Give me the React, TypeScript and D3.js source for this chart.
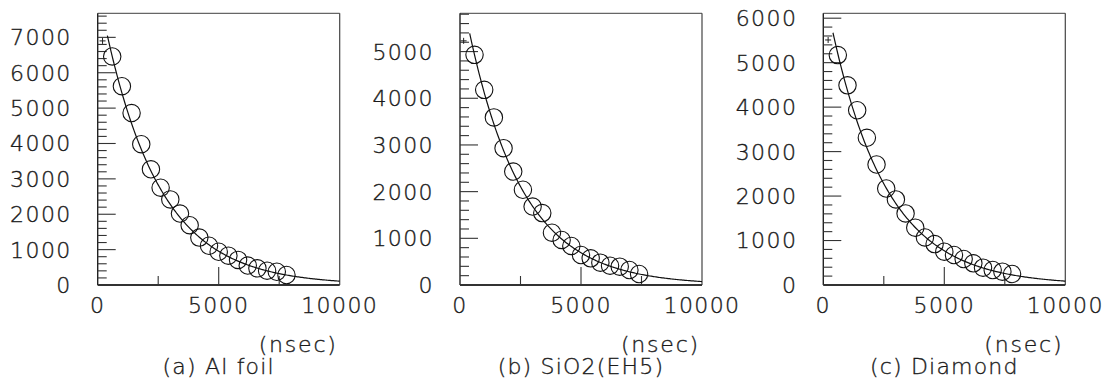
import React from "react";
import * as d3 from "d3";

// ---- data ----
const panelTitles = ["(a) Al foil", "(b) SiO2(EH5)", "(c) Diamond"];
const xUnit = "(nsec)";
const xTickLabels = [0, 5000, 10000];

const timesA = [600, 1000, 1400, 1800, 2200, 2600, 3000, 3400, 3800, 4200, 4600, 5000, 5400, 5800, 6200, 6600, 7000, 7400, 7800];
const countsA = [6460, 5620, 4860, 3980, 3270, 2750, 2420, 2020, 1690, 1340, 1110, 940, 830, 710, 550, 470, 405, 375, 282];

const timesB = [600, 1000, 1400, 1800, 2200, 2600, 3000, 3400, 3800, 4200, 4600, 5000, 5400, 5800, 6200, 6600, 7000, 7400];
const countsB = [4930, 4180, 3590, 2930, 2430, 2040, 1680, 1540, 1120, 965, 836, 643, 571, 479, 414, 393, 321, 236];

const timesC = [600, 1000, 1400, 1800, 2200, 2600, 3000, 3400, 3800, 4200, 4600, 5000, 5400, 5800, 6200, 6600, 7000, 7400, 7800];
const countsC = [5170, 4490, 3930, 3310, 2710, 2170, 1925, 1610, 1290, 1070, 920, 750, 675, 585, 487, 390, 337, 300, 247];

// first-bin markers ("+")
const crossX = [200, 150, 200];
const crossY = [6900, 5230, 5510];

// exponential fit parameters: N(t) = amp * exp(-t / tau)
const fitAmp = [8390, 6446, 6750];
const fitTau = [2300, 2237, 2300];
const fitStart = [400, 400, 400];

// axis ranges
const yMaxes = [7680, 5820, 6110];
const xMax = 10000;

const series = [
  { t: timesA, n: countsA },
  { t: timesB, n: countsB },
  { t: timesC, n: countsC },
];

// ---- layout ----
const W = 1110;
const H = 387;
const frameLeft = [97.7, 460, 823.3];
const frameWidth = 242;
const top = 13.3;
const bottom = 285;

const font = "'DejaVu Sans', sans-serif";
const fontSize = 22;
const textFill = "#1a1a1a";
const textStrokeW = 0.35;

function Panel({ i }: { i: number }) {
  const x0 = frameLeft[i];
  const x1 = x0 + frameWidth;
  const x = d3.scaleLinear().domain([0, xMax]).range([x0, x1]);
  const y = d3.scaleLinear().domain([0, yMaxes[i]]).range([bottom, top]);

  const yMinor = d3.range(0, yMaxes[i] + 1, 200);
  const yMajor = d3.range(0, yMaxes[i] + 1, 1000);
  const xMinor = [2500, 7500];
  const xMajor = [5000];

  const fitT = d3.range(fitStart[i], xMax + 1, 50);
  const line = d3
    .line<number>()
    .x((t) => x(t))
    .y((t) => y(fitAmp[i] * Math.exp(-t / fitTau[i])));

  const s = series[i];
  const cx = x(crossX[i]);
  const cy = y(crossY[i]);

  const textProps = {
    fontFamily: font,
    fontSize,
    fontWeight: 200,
    fill: textFill,
    stroke: textFill,
    strokeWidth: textStrokeW,
  };

  return (
    <g>
      {/* frame */}
      <line x1={x0} y1={top} x2={x1} y2={top} stroke="#666" strokeWidth={1.2} />
      <line x1={x1} y1={top} x2={x1} y2={bottom} stroke="#444" strokeWidth={1.2} />
      <line x1={x0} y1={top} x2={x0} y2={bottom} stroke="#222" strokeWidth={1.4} />
      <line x1={x0} y1={bottom} x2={x1} y2={bottom} stroke="#333" strokeWidth={1.8} />

      {/* y ticks */}
      {yMinor.map((v) => (
        <line key={"ym" + v} x1={x0} x2={x0 + (v % 1000 === 0 ? 18 : 9)} y1={y(v)} y2={y(v)} stroke="#333" strokeWidth={1.1} />
      ))}
      {yMajor.map((v) => (
        <text key={"yl" + v} x={x0 - 26} y={y(v)} dy="0.36em" textAnchor="end" letterSpacing={1.4} {...textProps}>
          {v}
        </text>
      ))}

      {/* x ticks */}
      {xMinor.map((v) => (
        <line key={"xm" + v} x1={x(v)} x2={x(v)} y1={bottom} y2={bottom - 9} stroke="#333" strokeWidth={1.1} />
      ))}
      {xMajor.map((v) => (
        <line key={"xM" + v} x1={x(v)} x2={x(v)} y1={bottom} y2={bottom - 18} stroke="#333" strokeWidth={1.1} />
      ))}
      {xTickLabels.map((v) => (
        <text key={"xl" + v} x={x(v)} y={313} textAnchor="middle" letterSpacing={1.4} {...textProps}>
          {v}
        </text>
      ))}

      {/* fit curve */}
      <path d={line(fitT) || ""} fill="none" stroke="#111" strokeWidth={1.2} />

      {/* cross marker */}
      <line x1={cx - 3} x2={cx + 3} y1={cy} y2={cy} stroke="#222" strokeWidth={1} />
      <line x1={cx} x2={cx} y1={cy - 3} y2={cy + 3} stroke="#222" strokeWidth={1} />

      {/* data points */}
      {s.t.map((t, k) => (
        <circle key={"c" + k} cx={x(t)} cy={y(s.n[k])} r={8.7} fill="none" stroke="#111" strokeWidth={1.1} />
      ))}

      {/* labels */}
      <text x={x1 - 2} y={352} textAnchor="end" letterSpacing={1.8} {...textProps}>
        {xUnit}
      </text>
      <text x={(x0 + x1) / 2} y={374} textAnchor="middle" letterSpacing={1.2} {...textProps}>
        {panelTitles[i]}
      </text>
    </g>
  );
}

export default function App() {
  return (
    <svg width={W} height={H} viewBox={`0 0 ${W} ${H}`} style={{ position: "absolute", left: 0, top: 0, background: "#fff" }}>
      <rect x={0} y={0} width={W} height={H} fill="#fff" />
      {[0, 1, 2].map((i) => (
        <Panel key={i} i={i} />
      ))}
    </svg>
  );
}
